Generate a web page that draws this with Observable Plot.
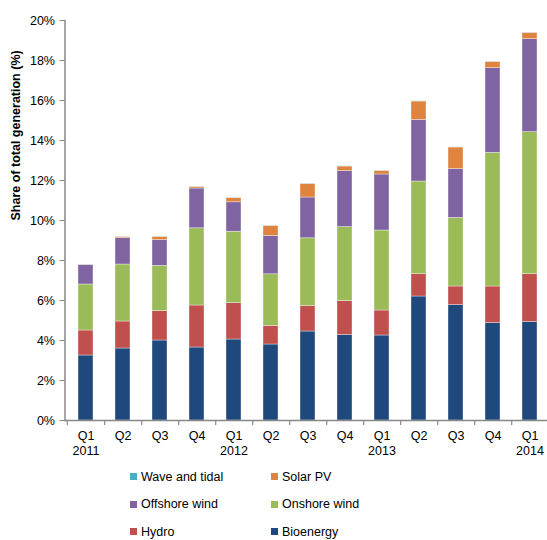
<!DOCTYPE html>
<html>
<head>
<meta charset="utf-8">
<script src="https://cdn.jsdelivr.net/npm/d3@7"></script>
<script src="https://cdn.jsdelivr.net/npm/@observablehq/plot@0.6"></script>
<style>
  html, body { margin: 0; padding: 0; background: #fff; overflow: hidden; }
  body { font-family: "Liberation Sans", Arial, sans-serif; width: 547px; }
  #legend { display: grid; grid-template-columns: 141px auto; margin-left: 130px; padding-top: 3px; font-size: 12.5px; color: #000; }
  #legend .item { height: 27.5px; display: flex; align-items: center; }
  #legend .sw { width: 7px; height: 7px; margin-right: 4px; display: inline-block; }
</style>
</head>
<body>
<div id="chart"></div>
<div id="legend"></div>
<script>
const quarters = ["Q1 2011","Q2 2011","Q3 2011","Q4 2011","Q1 2012","Q2 2012","Q3 2012","Q4 2012","Q1 2013","Q2 2013","Q3 2013","Q4 2013","Q1 2014"];
const seriesNames = ["Bioenergy","Hydro","Onshore wind","Offshore wind","Solar PV","Wave and tidal"];
const seriesColors = ["#1F497D","#C0504D","#9BBB59","#8064A2","#DE843E","#4BACC6"];
// values in % of total generation
const bioenergy   = [3.25, 3.60, 4.00, 3.65, 4.05, 3.80, 4.45, 4.27, 4.25, 6.20, 5.77, 4.87, 4.92];
const hydro       = [1.25, 1.35, 1.47, 2.10, 1.82, 0.93, 1.28, 1.70, 1.25, 1.13, 0.93, 1.83, 2.40];
const onshoreWind = [2.30, 2.85, 2.26, 3.86, 3.57, 2.58, 3.38, 3.70, 4.00, 4.62, 3.43, 6.68, 7.10];
const offshoreWind= [0.97, 1.32, 1.29, 1.99, 1.47, 1.92, 2.04, 2.80, 2.80, 3.08, 2.44, 4.24, 4.65];
const solarPV     = [0.02, 0.06, 0.16, 0.08, 0.21, 0.50, 0.68, 0.23, 0.18, 0.92, 1.08, 0.31, 0.31];
const waveTidal   = [0.01, 0.01, 0.01, 0.01, 0.01, 0.01, 0.01, 0.01, 0.01, 0.01, 0.01, 0.01, 0.01];
const yTicks = [0, 0.02, 0.04, 0.06, 0.08, 0.10, 0.12, 0.14, 0.16, 0.18, 0.20];
const legendOrder = ["Wave and tidal","Solar PV","Offshore wind","Onshore wind","Hydro","Bioenergy"];

const seriesValues = [bioenergy, hydro, onshoreWind, offshoreWind, solarPV, waveTidal];
const data = [];
seriesNames.forEach((s, i) => quarters.forEach((q, j) => data.push({quarter: q, series: s, value: seriesValues[i][j] / 100})));

const W = 547, mL = 64.5, mR = -4;
const step = (W - mR - mL) / quarters.length;
const fmtQuarter = d => { const [q, y] = d.split(" "); return q === "Q1" ? q + "\n" + y : q; };

const chart = Plot.plot({
  width: W, height: 460,
  marginLeft: mL, marginRight: mR, marginTop: 20, marginBottom: 40,
  style: {fontFamily: "'Liberation Sans', Arial, sans-serif", fontSize: "12.5px", color: "#000", background: "#fff", overflow: "visible"},
  x: {domain: quarters, paddingInner: 0.6, paddingOuter: 0.3, align: 0.5},
  y: {domain: [0, 0.2]},
  color: {domain: seriesNames, range: seriesColors},
  marks: [
    Plot.barY(data, Plot.stackY({order: seriesNames, x: "quarter", y: "value", fill: "series", stroke: "#fff", strokeOpacity: 0.6, strokeWidth: 0.6})),
    Plot.frame({anchor: "left", stroke: "#888", strokeWidth: 1.5}),
    Plot.frame({anchor: "bottom", stroke: "#888", strokeWidth: 1.5}),
    Plot.axisY({ticks: yTicks, tickFormat: d3.format(".0%"), tickSize: 5, tickPadding: 5, stroke: "#888", label: null, fontSize: "12.5px"}),
    Plot.axisX({tickSize: 0, tickPadding: 9, tickFormat: fmtQuarter, label: null, lineHeight: 1.2, fontSize: "12.5px"}),
    Plot.ruleX(quarters, {x: d => d, y1: 0, y2: -0.0025, dx: step / 2, stroke: "#888", strokeWidth: 1.2}),
    Plot.ruleX(quarters.slice(0, 1), {x: d => d, y1: 0, y2: -0.0025, dx: -step / 2, stroke: "#888", strokeWidth: 1.2}),
    Plot.text(["Share of total generation (%)"], {frameAnchor: "left", rotate: -90, dx: -49, fontWeight: "bold", fontSize: 12.5})
  ]
});
document.getElementById("chart").appendChild(chart);

const leg = document.getElementById("legend");
legendOrder.forEach(name => {
  const it = document.createElement("div");
  it.className = "item";
  const sw = document.createElement("span");
  sw.className = "sw";
  sw.style.background = seriesColors[seriesNames.indexOf(name)];
  it.appendChild(sw);
  it.appendChild(document.createTextNode(name));
  leg.appendChild(it);
});
</script>
</body>
</html>
